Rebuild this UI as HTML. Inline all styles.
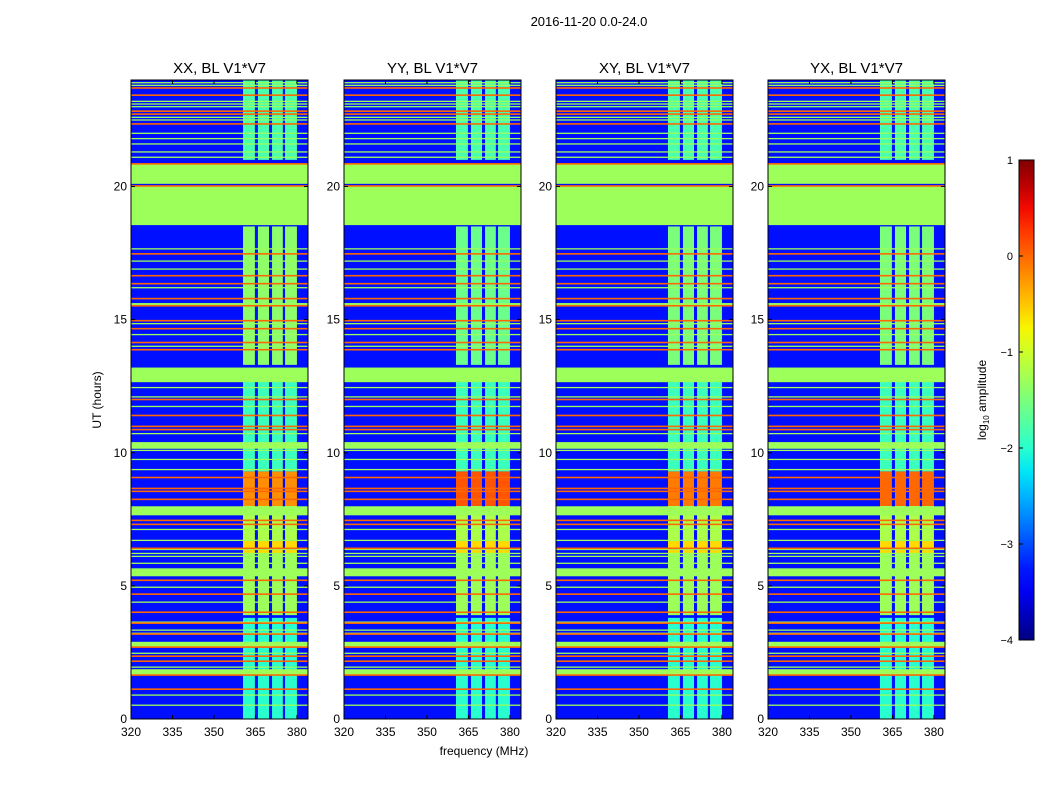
<!DOCTYPE html>
<html><head><meta charset="utf-8">
<style>
body{margin:0;background:#fff;width:1050px;height:800px;overflow:hidden;font-family:"Liberation Sans",sans-serif;}
svg{position:absolute;left:0;top:0}
text{font-family:"Liberation Sans",sans-serif;fill:#000}
</style></head>
<body>
<svg id="fig" width="1050" height="800">
<defs></defs>
<text x="589" y="26" font-size="13" text-anchor="middle">2016-11-20 0.0-24.0</text>
<text x="484" y="755" font-size="12" text-anchor="middle">frequency (MHz)</text>
<text x="101" y="400" font-size="12" text-anchor="middle" transform="rotate(-90 101 400)">UT (hours)</text>
</svg>
<script>
// ---- data ----
const panelTitles = ["XX, BL V1*V7","YY, BL V1*V7","XY, BL V1*V7","YX, BL V1*V7"];
const xTicks = [320,335,350,365,380];
const yTicks = [0,5,10,15,20];
const freqRange = [320,384];
const timeRange = [0,24];
const backgroundValue = -3.3;
// frequency columns (MHz)
const columnStarts = [360.5,365.9,371.0,375.7];
const columnEnds = [364.8,369.9,374.9,380.0];
// column time blocks
const blockStarts = [0,3.9,6.2,6.7,8.0,9.3,10.4,13.3,21.0];
const blockEnds   = [3.8,6.2,6.7,8.0,9.3,10.4,13.0,18.5,24.0];
const blockXX = [-2.0,-1.3,-0.6,-1.2,-0.2,-1.9,-1.9,-1.4,-1.8];
const blockYY = [-2.0,-1.3,-0.6,-1.2,0.1,-1.9,-1.9,-1.6,-1.8];
const blockXY = [-2.0,-1.3,-0.6,-1.2,-0.1,-1.9,-1.9,-1.5,-1.8];
const blockYX = [-2.0,-1.3,-0.6,-1.2,0.0,-1.9,-1.9,-1.5,-1.8];
const panelBlocks = [blockXX,blockYY,blockXY,blockYX];
// broad uniform bands (hours)
const bandStarts = [18.55,20.1,12.65,10.15,5.36,1.65,2.7,7.65];
const bandEnds   = [20.0,20.85,13.2,10.4,5.66,1.87,2.9,7.99];
const bandValues = [-1.3,-1.3,-1.3,-1.3,-1.3,-1.3,-1.3,-1.3];
// strong (orange) lines (hours)
const orangeLines = [23.70,23.43,22.83,22.72,22.35,20.85,20.02,17.47,16.65,16.35,15.79,15.52,14.96,14.66,14.14,13.87,12.0,11.40,10.99,10.87,9.07,8.66,8.55,8.25,7.46,7.31,6.41,5.21,4.69,4.01,3.60,3.19,2.70,2.36,2.17,1.65,1.12];
const orangeValue = 0.0;
// weaker (green) lines (hours)
const greenLines = [23.9,23.8,23.2,23.1,23.0,22.6,22.5,22.0,21.8,21.6,21.3,21.1,17.66,17.2,16.9,16.2,15.6,15.56,14.85,14.44,14.0,12.45,12.1,11.74,10.72,10.09,9.75,9.37,7.12,6.71,6.37,6.22,6.11,5.85,4.95,4.39,3.64,3.34,3.22,2.47,1.95,0.9,0.52];
const greenValue = -1.3;
const cbTicks = [1,0,-1,-2,-3,-4];
const cbRange = [-4,1];

// ---- helpers ----
const NS="http://www.w3.org/2000/svg";
const fig=document.getElementById('fig');
function interp(pts,n){for(let i=1;i<pts.length;i++){if(n<=pts[i][0]){const a=pts[i-1],b=pts[i];return a[1]+(b[1]-a[1])*(n-a[0])/(b[0]-a[0]);}}return pts[pts.length-1][1];}
function jet(v){let n=(v-cbRange[0])/(cbRange[1]-cbRange[0]);n=Math.max(0,Math.min(1,n));
const r=interp([[0,0],[0.35,0],[0.66,1],[0.89,1],[1,0.5]],n);
const g=interp([[0,0],[0.125,0],[0.375,1],[0.64,1],[0.91,0],[1,0]],n);
const b=interp([[0,0.5],[0.11,1],[0.34,1],[0.65,0],[1,0]],n);
return `rgb(${Math.round(r*255)},${Math.round(g*255)},${Math.round(b*255)})`;}
function mk(tag,attrs,parent){const e=document.createElementNS(NS,tag);for(const k in attrs)e.setAttribute(k,attrs[k]);(parent||fig).appendChild(e);return e;}

const panelX=[131,344,556,768], panelW=177, pTop=80, pBot=719;
panelX.forEach((x0,p)=>{
  const xs=f=>x0+(f-freqRange[0])*panelW/(freqRange[1]-freqRange[0]);
  const ys=t=>pBot-(t-timeRange[0])*(pBot-pTop)/(timeRange[1]-timeRange[0]);
  const g=mk('g',{});
  
  
  const bg=mk('rect',{x:x0,y:pTop,width:panelW,height:pBot-pTop,fill:jet(backgroundValue)},g);
  
  
  const blocks=panelBlocks[p];
  columnStarts.forEach((cs,ci)=>{
    blockStarts.forEach((bs,bi)=>{
      const r=mk('rect',{x:xs(cs),y:ys(blockEnds[bi]),width:xs(columnEnds[ci])-xs(cs),height:ys(bs)-ys(blockEnds[bi]),fill:jet(blocks[bi])},g);
      
      
    });
  });
  greenLines.forEach(t=>{
    const r=mk('rect',{x:x0,y:ys(t)-0.6,width:panelW,height:1.3,fill:jet(greenValue)},g);
    
    
  });
  bandStarts.forEach((bs,i)=>{
    const r=mk('rect',{x:x0,y:ys(bandEnds[i]),width:panelW,height:ys(bs)-ys(bandEnds[i]),fill:jet(bandValues[i])},g);
    
    
  });
  orangeLines.forEach(t=>{
    const r=mk('rect',{x:x0,y:ys(t)-0.8,width:panelW,height:1.6,fill:jet(orangeValue)},g);
    
    
  });
  const fr=mk('rect',{x:x0,y:pTop,width:panelW,height:pBot-pTop,fill:'none',stroke:'#000','stroke-width':1},g);
  
  
  xTicks.forEach(v=>{
    const X=xs(v);
    mk('line',{x1:X,x2:X,y1:pBot,y2:pBot-4,stroke:'#000'},g);
    mk('line',{x1:X,x2:X,y1:pTop,y2:pTop+4,stroke:'#000'},g);
    const t=mk('text',{x:X,y:pBot+17,'font-size':12,'text-anchor':'middle'},g);t.textContent=v;
    
    
  });
  yTicks.forEach(v=>{
    const Y=ys(v);
    mk('line',{x1:x0,x2:x0+4,y1:Y,y2:Y,stroke:'#000'},g);
    mk('line',{x1:x0+panelW,x2:x0+panelW-4,y1:Y,y2:Y,stroke:'#000'},g);
    const t=mk('text',{x:x0-4,y:Y+4,'font-size':12,'text-anchor':'end'},g);t.textContent=v;
    
    
  });
  const tt=mk('text',{x:x0+panelW/2,y:73,'font-size':15,'text-anchor':'middle'},g);tt.textContent=panelTitles[p];
  
  
});

// colorbar
const cbX=1019,cbW=15,cbTop=160,cbBot=640;
const defs=fig.querySelector('defs');
const grad=mk('linearGradient',{id:'jetg',x1:0,y1:1,x2:0,y2:0},defs);
for(let i=0;i<=20;i++){const v=cbRange[0]+(cbRange[1]-cbRange[0])*i/20;mk('stop',{offset:i/20,'stop-color':jet(v)},grad);}
const cb=mk('rect',{x:cbX,y:cbTop,width:cbW,height:cbBot-cbTop,fill:'url(#jetg)',stroke:'#000'});


const cys=v=>cbBot-(v-cbRange[0])*(cbBot-cbTop)/(cbRange[1]-cbRange[0]);
cbTicks.forEach(v=>{
  const Y=cys(v);
  mk('line',{x1:cbX,x2:cbX+4,y1:Y,y2:Y,stroke:'#000'});
  const t=mk('text',{x:1013,y:Y+4,'font-size':11,'text-anchor':'end'});t.textContent=v<0?'\u2212'+(-v):String(v);
  
  
});
const cl=mk('text',{x:986,y:400,'font-size':12,'text-anchor':'middle',transform:'rotate(-90 986 400)'});
cl.innerHTML='log<tspan font-size="8" dy="3">10</tspan><tspan dy="-3"> amplitude</tspan>';


</script>
</body></html>
